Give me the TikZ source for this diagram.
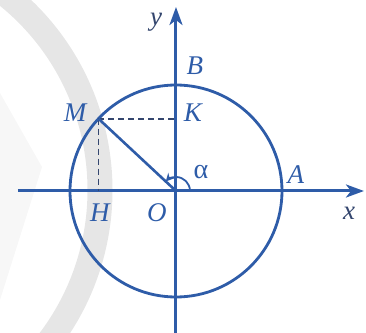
\documentclass[tikz,border=0pt]{standalone}
\usepackage{fontspec}
\setmainfont{Liberation Serif}
\usepackage{tikz}
\usetikzlibrary{arrows.meta}
\definecolor{axisc}{HTML}{2E5CA8}
\definecolor{darkc}{HTML}{34466E}
\definecolor{markc}{HTML}{E6E6E6}
\tikzset{
  ax/.style={-{Stealth[length=9pt,width=6.5pt,inset=2.5pt]},line width=1.5pt,axisc},
  lbl/.style={font=\fontsize{13.5}{15}\selectfont\itshape,text=axisc,inner sep=0pt},
  hint/.style={darkc,line width=0.9pt,dash pattern=on 3pt off 2pt}
}
\begin{document}
\begin{tikzpicture}[x=0.5pt,y=0.5pt]
\useasboundingbox (-176,-142) rectangle (190,191);
% watermark behind the figure
\begin{scope}
\clip (-176,-142) rectangle (190,191);
\fill[gray!6] (-176,98) -- (-134,24) -- (-176,-109) -- cycle;
\draw[markc,line width=12.5pt] (-326,1) ++(52:250) arc (52:-38:250);
\end{scope}
\coordinate (O) at (0,0);
\coordinate (M) at (137:106);
\coordinate (H) at (M |- O);
\coordinate (K) at (M -| O);
\coordinate (xl) at (-158,0);
\coordinate (xr) at (188,0);
\coordinate (yb) at (0,-142);
\coordinate (yt) at (0,184);
\draw[ax] (xl) -- (xr);
\draw[ax] (yb) -- (yt);
\draw[axisc,line width=1.4pt] (O) circle (106);
\draw[hint] (M) -- (H);
\draw[hint] (M) -- (K);
\draw[axisc,line width=1.3pt] (O) -- (M);
\draw[axisc,line width=0.9pt,-{Stealth[length=4pt,width=4pt]}] (14,0) arc (0:137:14);
\node[lbl] (lM) at (-101,78) {M};
\node[lbl] (lK) at (17,78) {K};
\node[lbl] (lH) at (-76,-22) {H};
\node[lbl] (lO) at (-19,-22) {O};
\node[lbl] (lA) at (120,16) {A};
\node[lbl] (lB) at (19,125) {B};
\node[lbl,text=darkc] (lx) at (173,-22) {x};
\node[lbl,text=darkc] (ly) at (-20,169) {y};
\node[lbl,font=\fontsize{14}{15}\selectfont] (la) at (25,19) {α};
\end{tikzpicture}
\end{document}
